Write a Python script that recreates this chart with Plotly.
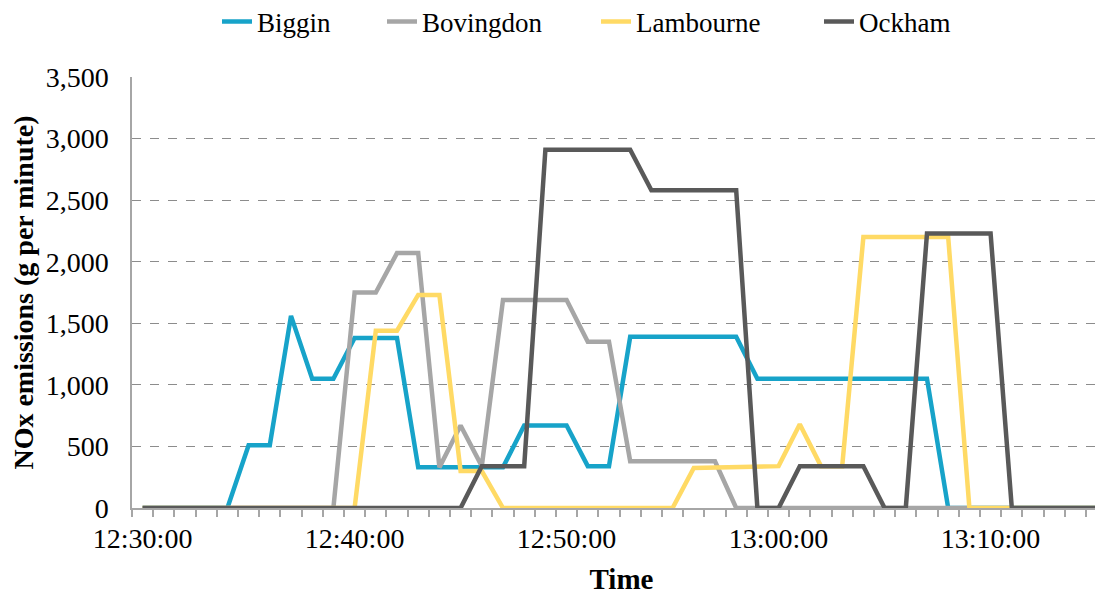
import plotly.graph_objects as go

# one category per minute, 12:30:00 .. 13:15:00
times = [f"{12 + (30 + m) // 60}:{(30 + m) % 60:02d}:00" for m in range(46)]
label_every = 10

biggin = [0, 0, 0, 0, 0, 510, 510, 1560, 1050, 1050,
          1380, 1380, 1380, 330, 330, 330, 330, 330, 670, 670,
          670, 340, 340, 1390, 1390, 1390, 1390, 1390, 1390, 1050,
          1050, 1050, 1050, 1050, 1050, 1050, 1050, 1050, 0, 0,
          0, 0, 0, 0, 0, 0]
bovingdon = [0, 0, 0, 0, 0, 0, 0, 0, 0, 0,
             1750, 1750, 2070, 2070, 330, 670, 340, 1690, 1690, 1690,
             1690, 1350, 1350, 380, 380, 380, 380, 380, 0, 0,
             0, 0, 0, 0, 0, 0, 0, 0, 0, 0,
             0, 0, 0, 0, 0, 0]
lambourne = [0, 0, 0, 0, 0, 0, 0, 0, 0, 0,
             0, 1440, 1440, 1730, 1730, 300, 300, 0, 0, 0,
             0, 0, 0, 0, 0, 0, 325, 330, 330, 340,
             340, 680, 340, 340, 2200, 2200, 2200, 2200, 2200, 0,
             0, 0, 0, 0, 0, 0]
ockham = [0, 0, 0, 0, 0, 0, 0, 0, 0, 0,
          0, 0, 0, 0, 0, 0, 340, 340, 340, 2910,
          2910, 2910, 2910, 2910, 2580, 2580, 2580, 2580, 2580, 0,
          0, 340, 340, 340, 340, 0, 0, 2230, 2230, 2230,
          2230, 0, 0, 0, 0, 0]

names = ["Biggin", "Bovingdon", "Lambourne", "Ockham"]
values = [biggin, bovingdon, lambourne, ockham]
colors = ["#17A3C9", "#A6A6A6", "#FFDA65", "#595959"]
legend_left_px = [209, 374, 588, 811]   # left edge of each legend entry

W, H = 1103, 594
serif = "Liberation Serif"
idx = list(range(len(times)))

fig = go.Figure()
legend_layouts = {}
for k, (name, vals, col) in enumerate(zip(names, values, colors)):
    lname = "legend" if k == 0 else f"legend{k + 1}"
    fig.add_trace(go.Scatter(x=idx, y=vals, name=name, mode="lines",
                             line=dict(color=col, width=4.5), legend=lname,
                             showlegend=True))
    legend_layouts[lname] = dict(
        orientation="h", xref="container", yref="container",
        x=legend_left_px[k] / W, xanchor="left",
        y=1 - 14 / H, yanchor="middle",
        font=dict(family=serif, size=27, color="#000000"),
        bgcolor="rgba(0,0,0,0)", borderwidth=0, visible=True)

tickvals = [i for i in idx if i % label_every == 0]
ticktext = [times[i] for i in tickvals]

fig.update_layout(
    width=W, height=H, showlegend=True,
    margin=dict(l=124, r=0, t=68.5, b=93.6, autoexpand=False),
    plot_bgcolor="white", paper_bgcolor="white",
    font=dict(family=serif, size=28, color="#000000"),
    xaxis=dict(
        range=[-0.5, 45.68], tickmode="array", tickvals=tickvals, ticktext=ticktext,
        ticks="", showgrid=False, zeroline=False, automargin=False,
        showline=True, linecolor="#A6A6A6", linewidth=1.5, ticklabelstandoff=5,
        minor=dict(tick0=-0.5, dtick=1, ticks="outside", ticklen=7,
                   tickcolor="#A6A6A6", tickwidth=1.5, showgrid=False),
        tickfont=dict(family=serif, size=28),
        title=dict(text="<b>Time</b>", font=dict(family=serif, size=29), standoff=15),
    ),
    yaxis=dict(
        range=[0, 3500], tickmode="linear", tick0=0, dtick=500,
        tickformat=",d", ticks="", showline=True, linecolor="#A6A6A6", linewidth=1.5,
        showgrid=True, gridcolor="#8C8C8C", griddash="dash", gridwidth=1,
        zeroline=False, automargin=False, ticklabelstandoff=16,
        tickfont=dict(family=serif, size=28),
        title=dict(text="<b>NOx emissions (g per minute)</b>",
                   font=dict(family=serif, size=28), standoff=8),
    ),
    **legend_layouts,
)

fig.write_html("out.html")
